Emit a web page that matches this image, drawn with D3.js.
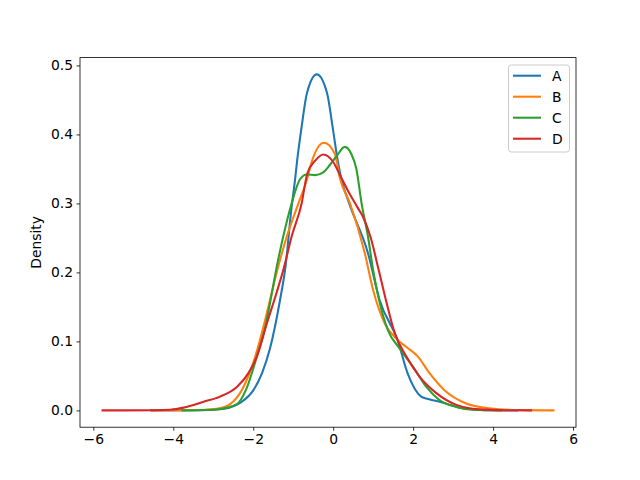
<!DOCTYPE html>
<html><head><meta charset="utf-8">
<script src="https://cdn.jsdelivr.net/npm/d3@7"></script>
<style>body{margin:0;background:#fff} svg{display:block} text{font-family:"DejaVu Sans",sans-serif}</style>
</head><body><svg id="c" width="640" height="480"></svg>
<script>
const seriesNames = ["A", "B", "C", "D"];
const seriesColors = ["#1f77b4", "#ff7f0e", "#2ca02c", "#d62728"];

const xA = [-4.55, -3.5, -3.0, -2.6, -2.3, -2.0, -1.78, -1.58, -1.33, -1.19, -1.05, -0.955, -0.90, -0.79, -0.66, -0.41, -0.15, -0.015, 0.11, 0.21, 0.40, 0.87, 1.16, 1.61, 1.86, 2.2, 2.4, 2.66, 3.24, 3.8, 4.6];
const yA = [0, 0.0003, 0.001, 0.004, 0.012, 0.029, 0.054, 0.09, 0.16, 0.21, 0.29, 0.334, 0.363, 0.411, 0.459, 0.487, 0.459, 0.411, 0.363, 0.334, 0.30, 0.228, 0.16, 0.102, 0.054, 0.020, 0.016, 0.0125, 0.003, 0.0003, 0];

const xB = [-4.5, -3.6, -3.2, -2.85, -2.58, -2.28, -1.95, -1.75, -1.56, -1.40, -1.16, -0.87, -0.66, -0.54, -0.23, 0.04, 0.17, 0.42, 0.79, 1.0, 1.29, 1.58, 1.83, 2.12, 2.41, 2.79, 3.33, 3.91, 4.6, 5.51];
const yB = [0, 0.0003, 0.001, 0.003, 0.009, 0.03, 0.078, 0.12, 0.165, 0.203, 0.252, 0.30, 0.334, 0.36, 0.388, 0.372, 0.336, 0.30, 0.228, 0.174, 0.126, 0.104, 0.092, 0.078, 0.054, 0.029, 0.010, 0.003, 0.0005, 0];

const xC = [-3.77, -3.2, -2.83, -2.41, -2.18, -1.91, -1.68, -1.56, -1.43, -1.25, -1.04, -0.83, -0.66, -0.45, -0.25, -0.08, 0.08, 0.29, 0.45, 0.58, 0.71, 0.87, 1.0, 1.14, 1.37, 1.66, 2.0, 2.33, 2.66, 3.08, 3.5, 4.2];
const yC = [0, 0.0005, 0.002, 0.009, 0.03, 0.078, 0.126, 0.162, 0.203, 0.252, 0.30, 0.335, 0.342, 0.341, 0.345, 0.356, 0.368, 0.382, 0.372, 0.35, 0.30, 0.252, 0.203, 0.162, 0.116, 0.09, 0.063, 0.034, 0.015, 0.005, 0.001, 0];

const xD = [-5.77, -4.5, -4.07, -3.74, -3.24, -2.83, -2.41, -2.12, -1.91, -1.66, -1.43, -1.25, -1.04, -0.79, -0.65, -0.45, -0.25, 0.0, 0.17, 0.40, 0.60, 0.75, 0.93, 1.14, 1.31, 1.54, 1.83, 2.16, 2.58, 3.08, 3.66, 4.3, 4.95];
const yD = [0, 0.0003, 0.001, 0.004, 0.0125, 0.020, 0.034, 0.054, 0.078, 0.126, 0.168, 0.203, 0.252, 0.30, 0.343, 0.362, 0.371, 0.36, 0.341, 0.315, 0.295, 0.28, 0.252, 0.203, 0.162, 0.112, 0.078, 0.049, 0.025, 0.008, 0.0015, 0.0002, 0];

const xTicks = [-6, -4, -2, 0, 2, 4, 6];
const yTicks = [0.0, 0.1, 0.2, 0.3, 0.4, 0.5];
const yLabel = "Density";

const seriesX = [xA, xB, xC, xD];
const seriesY = [yA, yB, yC, yD];

const svg = d3.select("#c");
const L = 80, T = 57.6, W = 496, H = 369.6;
const fs = 13.89;

const allX = seriesX.flat(), allY = seriesY.flat();
const [x0, x1] = d3.extent(allX), [y0, y1] = d3.extent(allY);
const mx = (x1 - x0) * 0.05, my = (y1 - y0) * 0.05;
const x = d3.scaleLinear().domain([x0 - mx, x1 + mx]).range([L, L + W]);
const y = d3.scaleLinear().domain([y0 - my, y1 + my]).range([T + H, T]);

const minus = s => s.replace("-", "\u2212");

const line = d3.line().x(d => x(d[0])).y(d => y(d[1])).curve(d3.curveMonotoneX);

seriesNames.forEach((n, i) => {
  const pts = seriesX[i].map((v, j) => [v, seriesY[i][j]]);
  svg.append("path").attr("d", line(pts)).attr("fill", "none")
    .attr("stroke", seriesColors[i]).attr("stroke-width", 2.08)
    .attr("stroke-linejoin", "round").attr("stroke-linecap", "square");
});

const gx = svg.append("g").attr("transform", `translate(0,${T + H})`)
  .call(d3.axisBottom(x).tickValues(xTicks).tickSize(3.5).tickPadding(3.5).tickFormat(d => minus(d3.format("d")(d))));
const gy = svg.append("g").attr("transform", `translate(${L},0)`)
  .call(d3.axisLeft(y).tickValues(yTicks).tickSize(3.5).tickPadding(3.5).tickFormat(d3.format(".1f")));
[gx, gy].forEach(g => {
  g.select(".domain").remove();
  g.selectAll(".tick line").attr("stroke", "#000").attr("stroke-width", 0.8);
  g.selectAll(".tick text").attr("fill", "#000").style("font-size", fs + "px").style("font-family", "DejaVu Sans");
});

svg.append("rect").attr("x", L).attr("y", T).attr("width", W).attr("height", H)
  .attr("fill", "none").attr("stroke", "#000").attr("stroke-width", 0.8);

svg.append("text").attr("transform", `translate(36,${T + H / 2}) rotate(-90)`)
  .attr("text-anchor", "middle").attr("dy", "0.35em").style("font-size", fs + "px").text(yLabel);

// legend
const lg = svg.append("g");
lg.append("rect").attr("x", 508.5).attr("y", 65).attr("width", 61).attr("height", 87)
  .attr("rx", 2.8).attr("fill", "#fff").attr("fill-opacity", 0.8)
  .attr("stroke", "#cccccc").attr("stroke-width", 1);
seriesNames.forEach((n, i) => {
  const cy = 75.7 + i * 21;
  lg.append("line").attr("x1", 513).attr("x2", 541).attr("y1", cy).attr("y2", cy)
    .attr("stroke", seriesColors[i]).attr("stroke-width", 2.08);
  lg.append("text").attr("x", 552).attr("y", cy).attr("dy", "0.35em").style("font-size", fs + "px").text(n);
});
</script></body></html>
